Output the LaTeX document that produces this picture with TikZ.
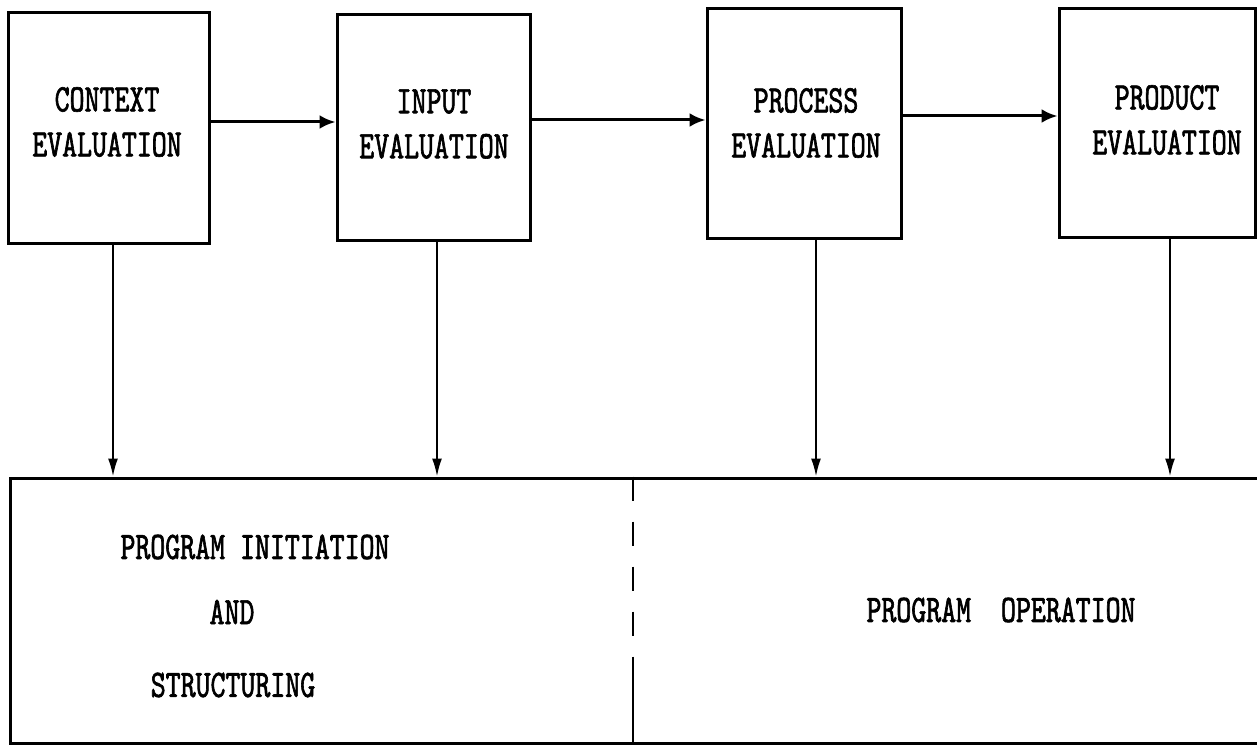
\documentclass[tikz,border=0pt]{standalone}
\usepackage{fontspec}
\newfontfamily\tw{lmmono10-regular.otf}[FakeStretch=0.73, FakeBold=1.6]
\usetikzlibrary{arrows.meta,calc}
\tikzset{
  box/.style={draw, line width=3pt, inner sep=0pt},
  txt/.style={font=\tw\fontsize{39}{45}\selectfont, inner sep=0pt, align=center},
  flow/.style={line width=3pt, -{Latex[length=16pt,width=14pt]}},
  down/.style={line width=2pt, -{Latex[length=18pt,width=10pt]}},
  divider/.style={line width=2pt},
}
\begin{document}
\begin{tikzpicture}[x=1pt,y=-1pt]
\useasboundingbox (0,0) rectangle (1257,749);
\fill[white] (0,0) rectangle (1257,749);
% top boxes
\node[box, minimum width=201pt, minimum height=230pt] (ctx) at (108.5,128) {};
\node[box, minimum width=193pt, minimum height=225pt] (inp) at (433.5,127.5) {};
\node[box, minimum width=194pt, minimum height=229pt] (proc) at (804,123.5) {};
\node[box, minimum width=196pt, minimum height=228pt] (prod) at (1157,123) {};
% bottom box (open to the right edge)
\node[box, minimum width=1265pt, minimum height=265pt] (base) at (642.5,610.5) {};
% labels
\node[txt] (ctxT) at (107,122) {CONTEXT\\EVALUATION};
\node[txt] (inpT) at (434,124) {INPUT\\EVALUATION};
\node[txt] (procT) at (806,123) {PROCESS\\EVALUATION};
\node[txt] (prodT) at (1167,120) {PRODUCT\\EVALUATION};
\node[txt] (pinit) at (255,547) {PROGRAM INITIATION};
\node[txt] (pand) at (232,612) {AND};
\node[txt] (pstruct) at (233,685) {STRUCTURING};
\node[txt] (pop) at (1001,610) {PROGRAM\ \ OPERATION};
% horizontal flow arrows
\draw[flow] ([yshift=6pt]ctx.east) -- ([yshift=5.5pt]inp.west);
\draw[flow] ([yshift=7.5pt]inp.east) -- ([yshift=3.5pt]proc.west);
\draw[flow] ([yshift=7.5pt]proc.east) -- ([yshift=7pt]prod.west);
% vertical arrows
\draw[down] ([xshift=4.5pt]ctx.south) -- ([xshift=4.5pt]ctx.south |- base.north);
\draw[down] ([xshift=3.5pt]inp.south) -- ([xshift=3.5pt]inp.south |- base.north);
\draw[down] ([xshift=12pt]proc.south) -- ([xshift=12pt]proc.south |- base.north);
\draw[down] ([xshift=13pt]prod.south) -- ([xshift=13pt]prod.south |- base.north);
% divider
\coordinate (dtop) at ([xshift=-9.5pt]base.north);
\coordinate (dbot) at ([xshift=-9.5pt]base.south);
\coordinate (dmid) at ($(dtop)!0.682!(dbot)$);
\draw[divider, dash pattern=on 24pt off 21pt] (dtop) -- (dmid);
\draw[divider] (dmid) -- (dbot);
\end{tikzpicture}
\end{document}
